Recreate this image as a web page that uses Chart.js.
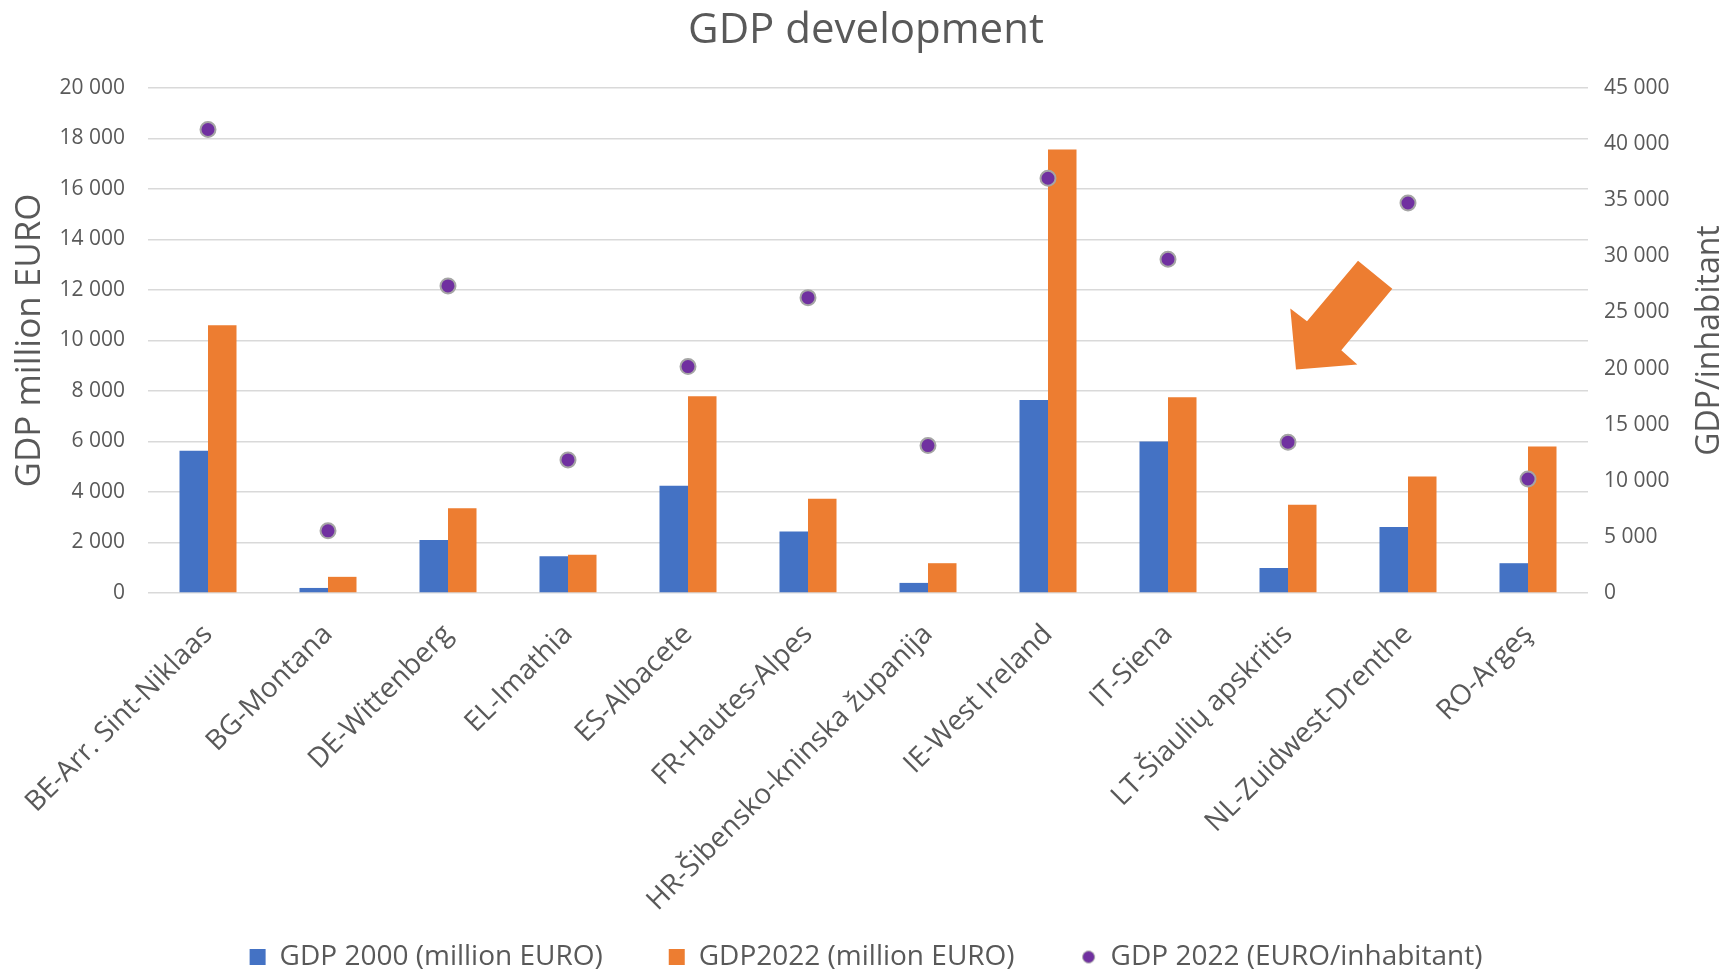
<!DOCTYPE html>
<html>
<head>
<meta charset="utf-8">
<title>GDP development</title>
<script src="https://cdn.jsdelivr.net/npm/chart.js@4.4.1/dist/chart.umd.min.js"></script>
<style>
  html, body { margin: 0; padding: 0; background: #ffffff; }
  canvas { display: block; }
</style>
</head>
<body>
<canvas id="chartGdp" width="1732" height="974"></canvas>
<script>
// regions shown on the x axis
const regions = [
    'BE-Arr. Sint-Niklaas', 'BG-Montana', 'DE-Wittenberg', 'EL-Imathia',
    'ES-Albacete', 'FR-Hautes-Alpes', 'HR-Šibensko-kninska županija',
    'IE-West Ireland', 'IT-Siena', 'LT-Šiaulių apskritis',
    'NL-Zuidwest-Drenthe', 'RO-Argeş'
];

// million EURO
const gdp2000 = [5630, 200, 2100, 1460, 4250, 2440, 400, 7640, 6000, 990, 2610, 1180];
const gdp2022 = [10600, 640, 3360, 1510, 7790, 3730, 1180, 17560, 7750, 3500, 4610, 5800];

// EURO per inhabitant
const gdpPerInhabitant = [41300, 5540, 27360, 11860, 20180, 26320, 13140, 36960, 29740, 13440, 34750, 10160];

// axis ranges
const leftAxis = { min: 0, max: 20000, step: 2000 };
const rightAxis = { min: 0, max: 45000, step: 5000 };

const textColor = '#595959';
const fontFamily = "'Open Sans', 'Noto Sans', sans-serif";

function spaced(v) {
    return String(v).replace(/\B(?=(\d{3})+(?!\d))/g, ' ');
}

// small round marker for the legend
const dotIcon = document.createElement('canvas');
dotIcon.width = 15;
dotIcon.height = 15;
(function () {
    const c = dotIcon.getContext('2d');
    c.beginPath();
    c.arc(7.5, 7.5, 6, 0, Math.PI * 2);
    c.fillStyle = '#7030A0';
    c.fill();
    c.lineWidth = 1;
    c.strokeStyle = '#A5A5A5';
    c.stroke();
})();

// orange call-out arrow pointing at LT, shape relative to its tip
const arrowPlugin = {
    id: 'arrow',
    afterDatasetsDraw(chart) {
        const x = chart.scales.x.getPixelForValue(9) + 8;
        const y = chart.scales.y.getPixelForValue(8850);
        const shape = [[62, -108.7], [96.3, -80.7], [45.3, -19.3], [61.3, -5], [0, 0], [-5.7, -61], [11, -48.3]];
        const ctx = chart.ctx;
        ctx.save();
        ctx.beginPath();
        shape.forEach(function (p, i) {
            if (i === 0) ctx.moveTo(x + p[0], y + p[1]);
            else ctx.lineTo(x + p[0], y + p[1]);
        });
        ctx.closePath();
        ctx.fillStyle = '#ED7D31';
        ctx.fill();
        ctx.restore();
    }
};

// right axis title reads bottom to top
const rightTitlePlugin = {
    id: 'rightTitle',
    afterDraw(chart) {
        const area = chart.chartArea;
        const scale = chart.scales.y2;
        const ctx = chart.ctx;
        ctx.save();
        ctx.translate(scale.right - 22, (area.top + area.bottom) / 2);
        ctx.rotate(-Math.PI / 2);
        ctx.font = '32px ' + fontFamily;
        ctx.fillStyle = textColor;
        ctx.textAlign = 'center';
        ctx.textBaseline = 'middle';
        ctx.fillText('GDP/inhabitant', 0, 0);
        ctx.restore();
    }
};

// long rotated labels run down past the axis box, so let them draw there
const labelRoomPlugin = {
    id: 'labelRoom',
    afterLayout(chart) {
        chart.scales.x.bottom = chart.height;
    }
};

const legendPadding = 66;
const legendFont = 28;

const ctxGdp = document.getElementById('chartGdp').getContext('2d');
const chartGdp = new Chart(ctxGdp, {
    data: {
        labels: regions,
        datasets: [{
            type: 'bar',
            label: 'GDP 2000 (million EURO)',
            data: gdp2000,
            backgroundColor: '#4472C4',
            yAxisID: 'y',
            order: 1,
            barPercentage: 1,
            categoryPercentage: 0.475
        }, {
            type: 'bar',
            label: 'GDP2022 (million EURO)',
            data: gdp2022,
            backgroundColor: '#ED7D31',
            yAxisID: 'y',
            order: 1,
            barPercentage: 1,
            categoryPercentage: 0.475
        }, {
            type: 'line',
            label: 'GDP 2022 (EURO/inhabitant)',
            data: gdpPerInhabitant,
            showLine: false,
            backgroundColor: '#7030A0',
            borderColor: '#A5A5A5',
            pointBackgroundColor: '#7030A0',
            pointBorderColor: '#A5A5A5',
            pointBorderWidth: 2,
            pointRadius: 7.5,
            yAxisID: 'y2',
            order: 0
        }]
    },
    options: {
        responsive: false,
        animation: false,
        layout: { padding: { top: 0, right: 0, bottom: -7, left: 0 } },
        plugins: {
            title: {
                display: true,
                text: 'GDP development',
                color: textColor,
                font: { family: fontFamily, size: 42, weight: 'normal' },
                padding: { top: 6, bottom: 31.6 }
            },
            legend: {
                position: 'bottom',
                labels: {
                    usePointStyle: true,
                    boxWidth: 16,
                    boxHeight: 16,
                    padding: legendPadding,
                    color: textColor,
                    font: { family: fontFamily, size: legendFont },
                    generateLabels(chart) {
                        return chart.data.datasets.map(function (ds, i) {
                            return {
                                text: ds.label,
                                fillStyle: ds.backgroundColor,
                                strokeStyle: ds.backgroundColor,
                                lineWidth: 0,
                                pointStyle: i === 2 ? dotIcon : 'rect',
                                hidden: !chart.isDatasetVisible(i),
                                datasetIndex: i,
                                fontColor: textColor
                            };
                        });
                    }
                }
            },
            tooltip: { enabled: false }
        },
        scales: {
            x: {
                grid: { display: false, drawTicks: false },
                border: { display: false },
                ticks: {
                    autoSkip: false,
                    maxRotation: 45,
                    minRotation: 45,
                    padding: 25,
                    color: textColor,
                    font: { family: fontFamily, size: 28 }
                },
                afterFit(scale) {
                    scale.paddingLeft = 0;
                    scale.paddingRight = 0;
                    const legendHeight = legendFont + legendPadding + 10;
                    scale.height = 974 + 7 - legendHeight - 593;
                }
            },
            y: {
                position: 'left',
                min: leftAxis.min,
                max: leftAxis.max,
                grid: { color: '#D9D9D9', lineWidth: 1.5, drawTicks: false },
                border: { display: false },
                ticks: {
                    stepSize: leftAxis.step,
                    padding: 23,
                    color: textColor,
                    font: { family: fontFamily, size: 21 },
                    callback: spaced
                },
                title: {
                    display: true,
                    text: 'GDP million EURO',
                    color: textColor,
                    font: { family: fontFamily, size: 35 },
                    padding: { top: 9, bottom: 0 }
                },
                afterFit(scale) { scale.width = 148; }
            },
            y2: {
                position: 'right',
                min: rightAxis.min,
                max: rightAxis.max,
                grid: { drawOnChartArea: false, drawTicks: false },
                border: { display: false },
                ticks: {
                    stepSize: rightAxis.step,
                    padding: 16,
                    color: textColor,
                    font: { family: fontFamily, size: 21 },
                    callback: spaced
                },
                afterFit(scale) { scale.width = 144; }
            }
        }
    },
    plugins: [arrowPlugin, rightTitlePlugin, labelRoomPlugin]
});
</script>
</body>
</html>
